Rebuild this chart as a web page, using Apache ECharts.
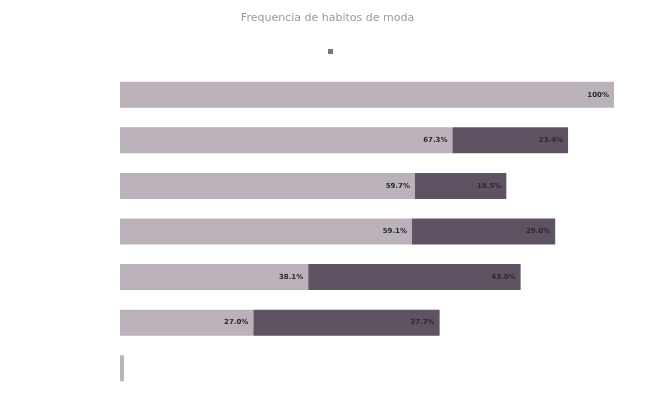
<!DOCTYPE html>
<html>
<head>
<meta charset="utf-8">
<script src="https://cdn.jsdelivr.net/npm/echarts@6/dist/echarts.min.js"></script>
<style>html,body{margin:0;padding:0;background:#fff;}#c{width:655px;height:406px;}</style>
</head>
<body>
<div id="c"></div>
<script>
const titleText = 'Frequencia de habitos de moda';
const categories = ['A', 'B', 'C', 'D', 'E', 'F', 'G'];
const seriesA = [100, 67.3, 59.7, 59.1, 38.1, 27.0, 0.8];
const seriesB = [null, 23.4, 18.5, 29.0, 43.0, 37.7, null];

const chart = echarts.init(document.getElementById('c'));
const lbl = {
  show: true,
  position: 'insideRight',
  fontSize: 7,
  fontWeight: 'bold',
  color: '#2a2a2a',
  fontFamily: 'DejaVu Sans',
  formatter: p => (p.value === null || p.value < 5) ? '' : (p.value === 100 ? '100%' : p.value.toFixed(1) + '%')
};
chart.setOption({
  animation: false,
  backgroundColor: '#fff',
  title: {
    text: titleText,
    left: 'center',
    top: 8,
    textStyle: { fontSize: 11, fontWeight: 'normal', color: '#9a9a9a', fontFamily: 'DejaVu Sans' }
  },
  legend: {
    top: 44,
    left: 323,
    itemWidth: 5,
    itemHeight: 5,
    icon: 'rect',
    selectedMode: false,
    data: [{ name: 'a', itemStyle: { color: '#777' } }],
    formatter: () => '',
    textStyle: { fontSize: 1, color: '#fff' }
  },
  grid: { left: 120, right: 41, top: 72, bottom: 15 },
  xAxis: { type: 'value', min: 0, max: 100, show: false },
  yAxis: { type: 'category', data: categories, inverse: true, show: false },
  series: [
    {
      name: 'a', type: 'bar', stack: 's', data: seriesA, barWidth: 26,
      itemStyle: { color: '#bab1bb' }, label: lbl
    },
    {
      name: 'b', type: 'bar', stack: 's', data: seriesB, barWidth: 26,
      itemStyle: { color: '#5f5363' }, label: lbl
    }
  ]
});
</script>
</body>
</html>
